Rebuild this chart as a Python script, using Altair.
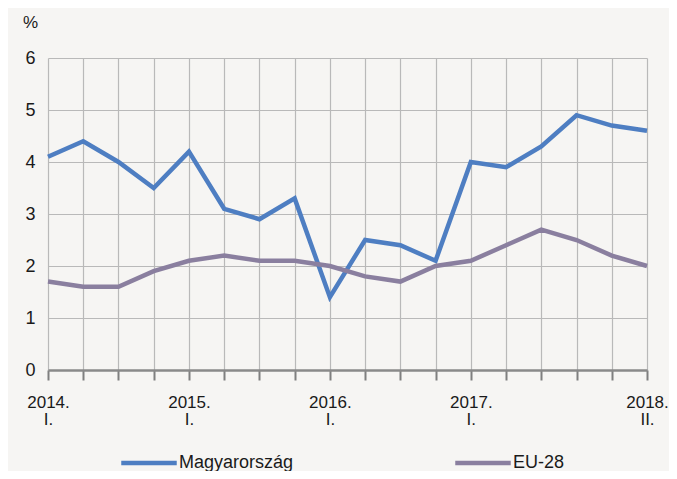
import altair as alt
import pandas as pd

quarters = [
    "2014. I.", "2014. II.", "2014. III.", "2014. IV.",
    "2015. I.", "2015. II.", "2015. III.", "2015. IV.",
    "2016. I.", "2016. II.", "2016. III.", "2016. IV.",
    "2017. I.", "2017. II.", "2017. III.", "2017. IV.",
    "2018. I.", "2018. II.",
]
magyar = [4.1, 4.4, 4.0, 3.5, 4.2, 3.1, 2.9, 3.3, 1.4, 2.5, 2.4, 2.1, 4.0, 3.9, 4.3, 4.9, 4.7, 4.6]
eu28 = [1.7, 1.6, 1.6, 1.9, 2.1, 2.2, 2.1, 2.1, 2.0, 1.8, 1.7, 2.0, 2.1, 2.4, 2.7, 2.5, 2.2, 2.0]
shown_labels = ["2014. I.", "2015. I.", "2016. I.", "2017. I.", "2018. II."]
series_names = ["Magyarország", "EU-28"]
series_colors = ["#4e7ec2", "#8a7f9f"]

rows = []
for i, q in enumerate(quarters):
    rows.append({"quarter": q, "series": series_names[0], "value": magyar[i]})
    rows.append({"quarter": q, "series": series_names[1], "value": eu28[i]})
df = pd.DataFrame(rows)

FONT = "Liberation Sans, Arial"
label_list = "[" + ",".join("'" + s + "'" for s in shown_labels) + "]"

chart = alt.Chart(df).mark_line(strokeWidth=4.5).encode(
    x=alt.X(
        "quarter:O",
        sort=quarters,
        scale=alt.Scale(type="point", padding=0),
        axis=alt.Axis(
            title=None,
            labelAngle=0,
            labelExpr=f"indexof({label_list}, datum.label) >= 0 ? split(datum.label, ' ') : ''",
            labelFontSize=17,
            labelFont=FONT,
            labelColor="#1a1a1a",
            labelPadding=14,
            labelLineHeight=17,
            labelOverlap=False,
            tickSize=10,
            tickColor="#7f7f7f",
            tickWidth=2,
            domainColor="#8a8a8a",
            domainWidth=2.5,
            grid=True,
            gridColor="#b9b9b9",
            gridWidth=1.2,
        ),
    ),
    y=alt.Y(
        "value:Q",
        scale=alt.Scale(domain=[0, 6]),
        axis=alt.Axis(
            title="%",
            titleAngle=0,
            titleAlign="center",
            titleBaseline="middle",
            titleX=-18,
            titleY=-36,
            titleFont=FONT,
            titleFontSize=17,
            titleFontWeight="normal",
            titleColor="#1a1a1a",
            values=[0, 1, 2, 3, 4, 5, 6],
            labelFontSize=18,
            labelFont=FONT,
            labelColor="#1a1a1a",
            labelPadding=13,
            ticks=False,
            domain=False,
            gridColor="#b9b9b9",
            gridWidth=1.2,
        ),
    ),
    color=alt.Color(
        "series:N",
        sort=series_names,
        scale=alt.Scale(domain=series_names, range=series_colors),
        legend=alt.Legend(
            title=None,
            orient="none",
            legendX=71,
            legendY=375,
            direction="horizontal",
            symbolType="stroke",
            symbolSize=3080,
            symbolStrokeWidth=4.5,
            labelFont=FONT,
            labelFontSize=18,
            labelColor="#1a1a1a",
            labelOffset=0,
            columnPadding=152,
        ),
    ),
).properties(
    width=599,
    height=312,
    background="#f6f5f3",
    padding={"left": 40, "top": 50, "right": 22, "bottom": 101},
    autosize=alt.AutoSizeParams(type="none"),
).configure_view(stroke=None)

chart.save("out.html", embed_options={"renderer": "svg", "actions": False})
